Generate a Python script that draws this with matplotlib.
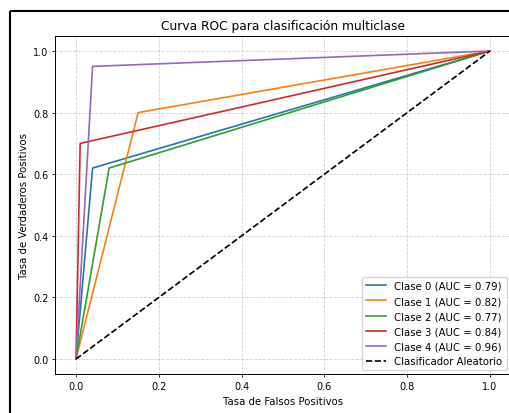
import matplotlib
matplotlib.use("Agg")
import matplotlib.pyplot as plt
from matplotlib.lines import Line2D

# ROC points (one knee per class)
clases = [0, 1, 2, 3, 4]
fpr = [
    [0.0, 0.04, 1.0],
    [0.0, 0.15, 1.0],
    [0.0, 0.08, 1.0],
    [0.0, 0.01, 1.0],
    [0.0, 0.04, 1.0],
]
tpr = [
    [0.0, 0.62, 1.0],
    [0.0, 0.80, 1.0],
    [0.0, 0.62, 1.0],
    [0.0, 0.70, 1.0],
    [0.0, 0.95, 1.0],
]
auc = [0.79, 0.82, 0.77, 0.84, 0.96]
colores = ["tab:blue", "tab:orange", "tab:green", "tab:red", "tab:purple"]

fig = plt.figure(figsize=(5.09, 4.14), dpi=100)
ax = fig.add_axes([0.1087, 0.0932, 0.8946, 0.8184])

for c, x, y, a, col in zip(clases, fpr, tpr, auc, colores):
    ax.plot(x, y, color=col, lw=1.2, label=f"Clase {c} (AUC = {a:.2f})")

ax.plot([0, 1], [0, 1], "k--", lw=1.2, label="Clasificador Aleatorio")

ax.set_xlabel("Tasa de Falsos Positivos", fontsize=7.3, labelpad=3)
ax.set_ylabel("Tasa de Verdaderos Positivos", fontsize=7.3, labelpad=3)
ax.set_title("Curva ROC para clasificación multiclase", fontsize=8.8, pad=4.5)
ax.tick_params(labelsize=7, length=2.5, width=0.6, pad=2.5)
for s in ax.spines.values():
    s.set_linewidth(0.7)
ax.spines["right"].set_visible(False)
ax.grid(True, linestyle="--", alpha=0.6, lw=0.6)
ax.legend(loc="lower right", fontsize=7.3, handlelength=2.0, borderaxespad=0.4,
          labelspacing=0.5)

# black frame of the original screenshot (left and top edges)
fig.add_artist(Line2D([10 / 509, 10 / 509], [0, 1 - 12 / 414], color="black", lw=1.5,
                      solid_capstyle="butt", transform=fig.transFigure))
fig.add_artist(Line2D([10 / 509, 1], [1 - 12 / 414, 1 - 12 / 414], color="black", lw=1.5,
                      solid_capstyle="butt", transform=fig.transFigure))

fig.savefig("out.png", dpi=100)
